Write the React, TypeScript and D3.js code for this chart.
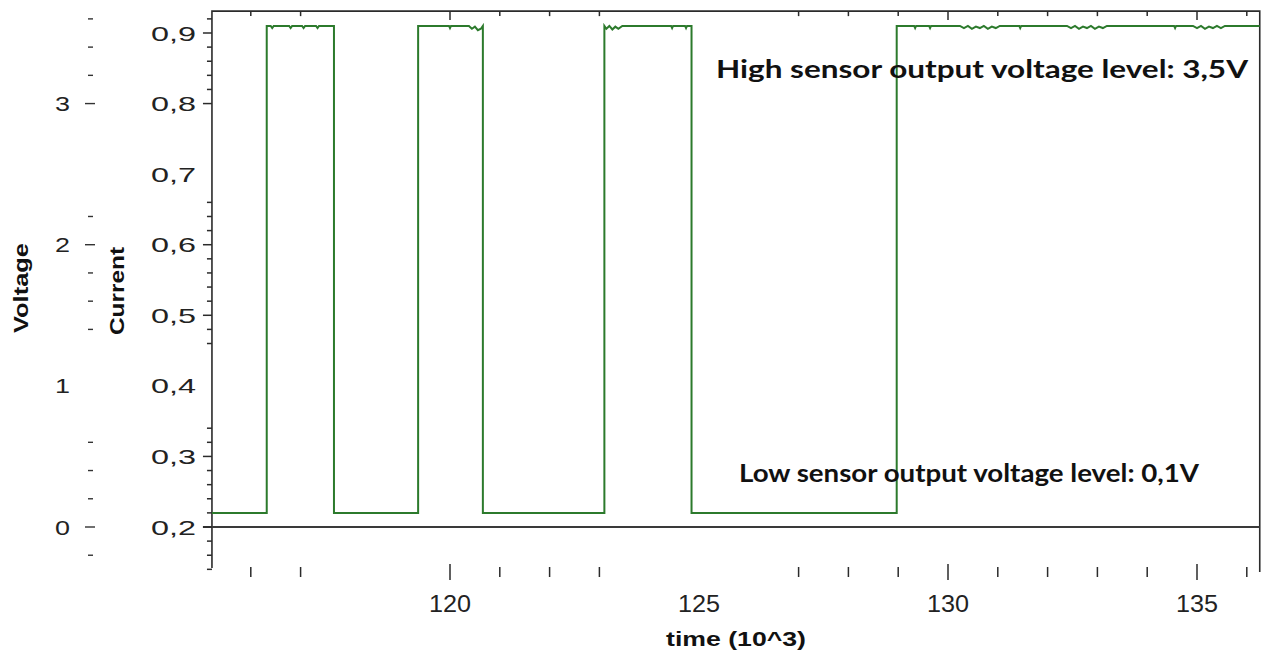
import { useEffect, useRef } from 'react';
import * as d3 from 'd3';

const WIDTH = 1263;
const HEIGHT = 664;

const timeRange = [115.22, 136.26];
const currentRange = [0.142, 0.931];

// sensor output: switches between the two current levels at these times
const edgeTimes = [116.32, 117.67, 119.36, 120.66, 123.1, 124.85, 128.97];
const lowCurrent = 0.22;
const highCurrent = 0.91;

// small ripple seen on the high plateaus [time, current]
const ripple: [number, number][] = [
  [116.4, 0.91], [116.43, 0.907], [116.46, 0.91],
  [116.77, 0.91], [116.8, 0.907], [116.83, 0.91],
  [117.03, 0.91], [117.06, 0.907], [117.09, 0.91],
  [117.31, 0.91], [117.34, 0.907], [117.37, 0.91],
  [119.98, 0.91], [120.0, 0.907], [120.02, 0.91],
  [120.38, 0.91], [120.44, 0.906], [120.5, 0.909], [120.56, 0.904], [120.62, 0.906],
  [123.14, 0.906], [123.2, 0.91], [123.26, 0.905], [123.32, 0.909], [123.38, 0.906], [123.46, 0.91],
  [124.44, 0.91], [124.46, 0.907], [124.48, 0.91],
  [124.72, 0.91], [124.74, 0.907], [124.76, 0.91],
  [129.32, 0.91], [129.34, 0.907], [129.36, 0.91],
  [129.62, 0.91], [129.64, 0.907], [129.66, 0.91],
  [130.24, 0.91], [130.32, 0.907], [130.4, 0.91], [130.48, 0.906], [130.56, 0.909],
  [130.64, 0.907], [130.72, 0.91], [130.8, 0.906], [130.88, 0.909], [130.96, 0.907], [131.04, 0.91],
  [131.43, 0.91], [131.45, 0.907], [131.47, 0.91],
  [132.39, 0.91], [132.47, 0.907], [132.55, 0.91], [132.63, 0.906], [132.71, 0.909],
  [132.79, 0.907], [132.87, 0.91], [132.95, 0.906], [133.03, 0.909], [133.11, 0.907], [133.19, 0.91],
  [134.54, 0.91], [134.56, 0.907], [134.58, 0.91],
  [134.92, 0.91], [135.0, 0.907], [135.08, 0.91], [135.16, 0.906], [135.24, 0.909],
  [135.32, 0.907], [135.4, 0.91], [135.48, 0.907], [135.56, 0.91],
];

// ticks
const timeTicks = d3.range(116, 137);
const timeLabels = [120, 125, 130, 135];
const timeTicksMissing = [118, 119, 124, 125, 126];

const currentTicks = d3.range(14, 93, 2).map(v => v / 100);
const currentLabels = [0.2, 0.3, 0.4, 0.5, 0.6, 0.7, 0.8, 0.9];
const currentTicksMissing = [0.78, 0.76, 0.74, 0.72, 0.7, 0.68, 0.44, 0.42, 0.4, 0.38, 0.36];

const voltageTicks = d3.range(-1, 19).map(v => v / 5);
const voltageLabels = [0, 1, 2, 3];
const voltageTicksMissing = [2.8, 2.6, 2.4, 1.2, 1, 0.8];

const highNote = 'High sensor output voltage level: 3,5V';
const lowNote = 'Low sensor output voltage level: 0,1V';

const near = (list: number[], v: number) => list.some(m => Math.abs(m - v) < 1e-6);
const fmt = d3.formatLocale({ decimal: ',', thousands: '.', grouping: [3], currency: ['', ''] }).format('.1f');

export default function App() {
  const svgRef = useRef<SVGSVGElement>(null);

  useEffect(() => {
    if (!svgRef.current) return;
    const svg = d3.select(svgRef.current);
    svg.selectAll('*').remove();

    const x = d3.scaleLinear().domain([120, 135]).range([450, 1197]);
    const y = d3.scaleLinear().domain([0.2, 0.9]).range([527, 33]);
    // voltage is tied to the current axis: 0 V at 0.2, 3 V at 0.8
    const yV = d3.scaleLinear().domain([0, 3]).range([y(0.2), y(0.8)]);

    const left = x(timeRange[0]);
    const right = x(timeRange[1]);
    const top = y(currentRange[1]);
    const bottom = y(currentRange[0]);
    const axisColor = '#2b2b2b';
    const sans = '"Liberation Sans", Arial, sans-serif';

    svg.append('rect').attr('width', WIDTH).attr('height', HEIGHT).attr('fill', '#fff');

    // frame: left, top, right
    svg.append('path')
      .attr('d', `M${left},${bottom}V${top}H${right}V${bottom + 4}`)
      .attr('fill', 'none')
      .attr('stroke', axisColor)
      .attr('stroke-width', 1.6);

    // baseline at current 0,2
    svg.append('line')
      .attr('x1', left - 9).attr('x2', right)
      .attr('y1', y(0.2)).attr('y2', y(0.2))
      .attr('stroke', '#3a3a3a')
      .attr('stroke-width', 2);

    // current ticks and labels
    svg.append('g').selectAll('line')
      .data(currentTicks.filter(v => !near(currentTicksMissing, v)))
      .enter().append('line')
      .attr('x1', d => left - (near(currentLabels, d) ? 9 : 5)).attr('x2', left)
      .attr('y1', d => y(d)).attr('y2', d => y(d))
      .attr('stroke', axisColor).attr('stroke-width', 1.5);

    svg.append('g').selectAll('text')
      .data(currentLabels)
      .enter().append('text')
      .attr('x', 151).attr('y', d => y(d)).attr('dy', '0.36em')
      .attr('textLength', 45).attr('lengthAdjust', 'spacingAndGlyphs')
      .attr('font-family', sans).attr('font-size', 21).attr('fill', '#222')
      .text(d => fmt(d));

    // voltage dashes and labels
    svg.append('g').selectAll('line')
      .data(voltageTicks.filter(v => !near(voltageTicksMissing, v)))
      .enter().append('line')
      .attr('x1', d => (near(voltageLabels, d) ? 85 : 88)).attr('x2', d => (near(voltageLabels, d) ? 95 : 93))
      .attr('y1', d => yV(d)).attr('y2', d => yV(d))
      .attr('stroke', '#333').attr('stroke-width', 1.4);

    svg.append('g').selectAll('text')
      .data(voltageLabels)
      .enter().append('text')
      .attr('x', 55).attr('y', d => yV(d)).attr('dy', '0.36em')
      .attr('textLength', 15).attr('lengthAdjust', 'spacingAndGlyphs')
      .attr('font-family', sans).attr('font-size', 21).attr('fill', '#222')
      .text(d => String(d));

    // time ticks: floating below the plot, and on the top frame
    const shownTime = timeTicks.filter(t => !near(timeTicksMissing, t));
    svg.append('g').selectAll('line')
      .data(shownTime)
      .enter().append('line')
      .attr('x1', d => x(d)).attr('x2', d => x(d))
      .attr('y1', d => (near(timeLabels, d) ? 564 : 567))
      .attr('y2', d => (near(timeLabels, d) ? 580 : 577))
      .attr('stroke', axisColor).attr('stroke-width', 1.5);

    svg.append('g').selectAll('line')
      .data(shownTime)
      .enter().append('line')
      .attr('x1', d => x(d)).attr('x2', d => x(d))
      .attr('y1', top)
      .attr('y2', d => top + (near(timeLabels, d) ? 9 : 5))
      .attr('stroke', axisColor).attr('stroke-width', 1.5);

    svg.append('g').selectAll('text')
      .data(timeLabels)
      .enter().append('text')
      .attr('x', d => x(d) - 21).attr('y', 612)
      .attr('textLength', 42).attr('lengthAdjust', 'spacingAndGlyphs')
      .attr('font-family', sans).attr('font-size', 23.5).attr('fill', '#222')
      .text(d => String(d));

    // axis titles
    svg.append('text')
      .attr('transform', 'translate(28,333) rotate(-90)')
      .attr('textLength', 90).attr('lengthAdjust', 'spacingAndGlyphs')
      .attr('font-family', sans).attr('font-size', 21).attr('font-weight', 700).attr('fill', '#111')
      .text('Voltage');
    svg.append('text')
      .attr('transform', 'translate(124,335) rotate(-90)')
      .attr('textLength', 88).attr('lengthAdjust', 'spacingAndGlyphs')
      .attr('font-family', sans).attr('font-size', 21).attr('font-weight', 700).attr('fill', '#111')
      .text('Current');
    svg.append('text')
      .attr('x', 666).attr('y', 646)
      .attr('textLength', 140).attr('lengthAdjust', 'spacingAndGlyphs')
      .attr('font-family', sans).attr('font-size', 21).attr('font-weight', 700).attr('fill', '#111')
      .text('time (10^3)');

    // signal
    const points: [number, number][] = [[timeRange[0], lowCurrent]];
    let level = lowCurrent;
    edgeTimes.forEach(t => {
      points.push([t, level]);
      level = level === lowCurrent ? highCurrent : lowCurrent;
      points.push([t, level]);
    });
    points.push([timeRange[1], level]);
    const series = points.concat(ripple).sort((a, b) => a[0] - b[0]);

    const line = d3.line<[number, number]>().x(d => x(d[0])).y(d => y(d[1]));
    svg.append('path')
      .datum(series)
      .attr('d', line)
      .attr('fill', 'none')
      .attr('stroke', '#2c7a2c')
      .attr('stroke-width', 2);

    // level annotations
    const noteFont = 'Lato, "Open Sans", sans-serif';
    svg.append('text')
      .attr('x', 716).attr('y', 78)
      .attr('font-family', noteFont).attr('font-size', 25).attr('font-weight', 700).attr('fill', '#111')
      .attr('textLength', 532).attr('lengthAdjust', 'spacingAndGlyphs')
      .text(highNote);
    svg.append('text')
      .attr('x', 739).attr('y', 482)
      .attr('font-family', noteFont).attr('font-size', 25).attr('font-weight', 700).attr('fill', '#111')
      .attr('textLength', 460).attr('lengthAdjust', 'spacingAndGlyphs')
      .text(lowNote);
  }, []);

  return (
    <div style={{ position: 'absolute', left: 0, top: 0 }}>
      <svg ref={svgRef} width={WIDTH} height={HEIGHT} style={{ display: 'block' }} />
    </div>
  );
}
